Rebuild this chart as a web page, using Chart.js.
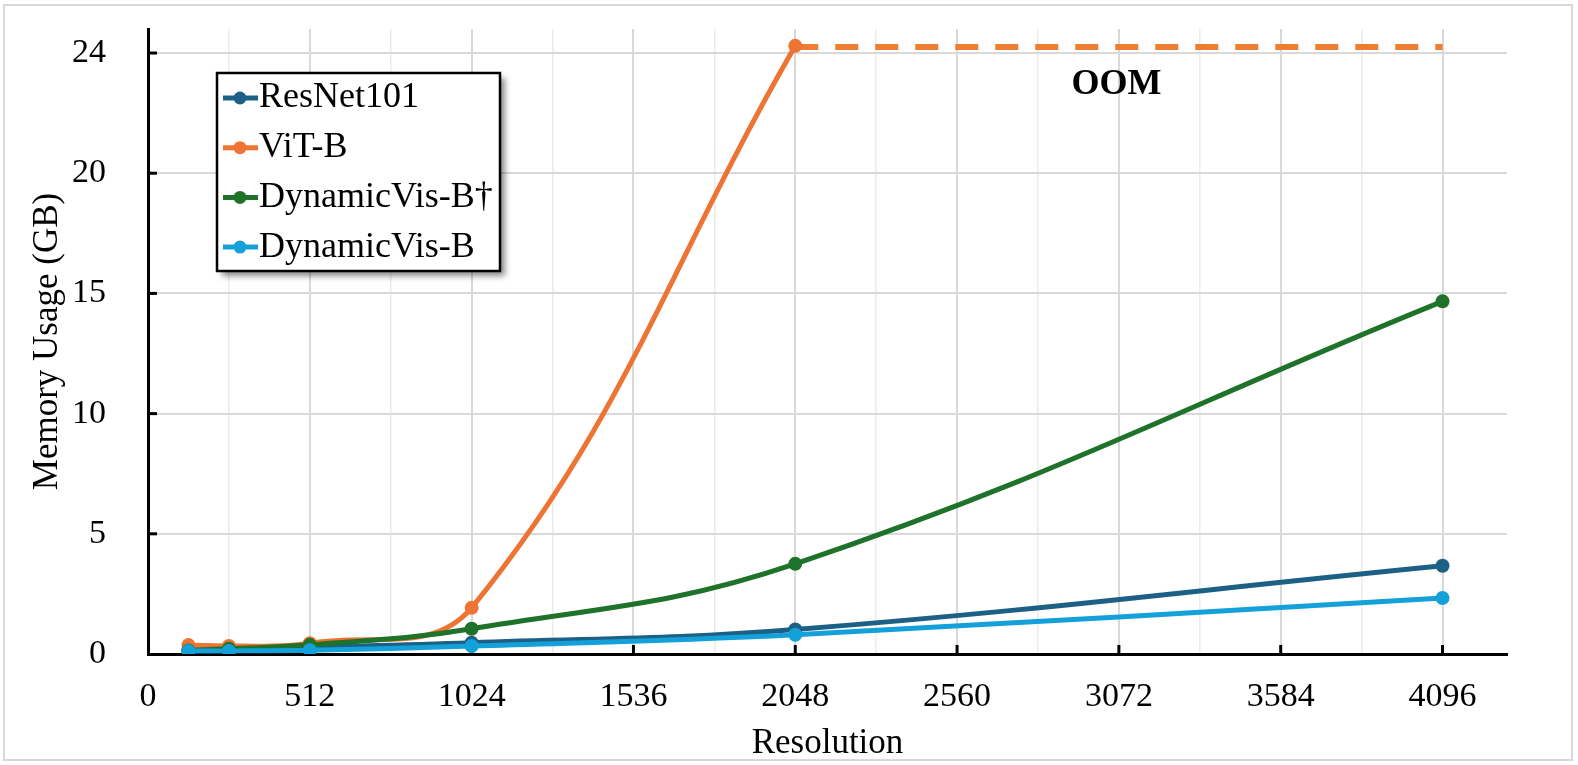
<!DOCTYPE html>
<html>
<head>
<meta charset="utf-8">
<title>Memory usage vs resolution</title>
<script src="https://cdn.jsdelivr.net/npm/chart.js@4.4.1/dist/chart.umd.min.js"></script>
<style>
  html, body { margin: 0; padding: 0; background: #fff; overflow: hidden; }
  #wrap { position: relative; width: 1578px; height: 765px; }
  #frame {
    position: absolute; left: 3px; top: 4px; width: 1570px; height: 757px;
    border: 2px solid #d9d9d9; box-sizing: border-box; pointer-events: none;
  }
</style>
</head>
<body>
<div id="wrap">
  <canvas id="memChart" width="1578" height="765"></canvas>
  <div id="frame"></div>
</div>
<script>
// values (GB)
const resolutions = [128, 256, 512, 1024, 2048, 4096];
const resnet101 = [0.18, 0.2, 0.28, 0.47, 1.02, 3.67];
const vitB = [0.37, 0.33, 0.45, 1.92, 25.3, null];
const dynamicVisDagger = [0.15, 0.22, 0.38, 1.05, 3.75, 14.67];
const dynamicVisB = [0.12, 0.13, 0.16, 0.33, 0.8, 2.33];

// ViT-B runs out of memory past 2048
const oomResolutions = [2048, 4096];
const oomLevel = [25.25, 25.25];
const oomText = "OOM";
const oomTextAt = [3064, 23.7];

const xTickValues = [0, 256, 512, 768, 1024, 1280, 1536, 1792, 2048, 2304,
  2560, 2816, 3072, 3328, 3584, 3840, 4096];
const yTickValues = [0, 5, 10, 15, 20, 25];
const yTickLabels = ["0", "5", "10", "15", "20", "24"];

const FONT = '"Liberation Serif", "Times New Roman", serif';
Chart.defaults.font.family = FONT;
Chart.defaults.color = "#000";

function toPoints(xs, ys) {
  return xs.map((x, i) => ({ x: x, y: ys[i] }));
}

function series(label, values, color, order) {
  return {
    label: label,
    data: toPoints(resolutions, values),
    borderColor: color,
    backgroundColor: color,
    borderWidth: 5,
    pointRadius: 7,
    pointBorderWidth: 0,
    tension: 0.4,
    order: order,
  };
}

// inward tick marks, the framed legend and the OOM label
const extras = {
  id: "extras",
  beforeDatasetsDraw(chart) {
    const { ctx, chartArea, scales } = chart;
    ctx.save();
    ctx.strokeStyle = "#000";
    ctx.lineWidth = 3;
    xTickValues.filter(v => v % 512 === 0 && v > 0).forEach(v => {
      const px = scales.x.getPixelForValue(v);
      ctx.beginPath();
      ctx.moveTo(px, chartArea.bottom);
      ctx.lineTo(px, chartArea.bottom - 9);
      ctx.stroke();
    });
    yTickValues.filter(v => v > 0).forEach(v => {
      const py = scales.y.getPixelForValue(v);
      ctx.beginPath();
      ctx.moveTo(chartArea.left, py);
      ctx.lineTo(chartArea.left + 9, py);
      ctx.stroke();
    });
    ctx.restore();
  },
  afterDraw(chart) {
    const { ctx, chartArea, scales } = chart;
    const items = chart.data.datasets.filter(d => !d.noLegend);

    const bx = chartArea.left + 69, by = chartArea.top + 44;
    const bw = 283, bh = 198, rowH = 49.7;

    ctx.save();
    ctx.shadowColor = "rgba(0,0,0,0.45)";
    ctx.shadowBlur = 6;
    ctx.shadowOffsetX = 5;
    ctx.shadowOffsetY = 5;
    ctx.fillStyle = "#fff";
    ctx.fillRect(bx, by, bw, bh);
    ctx.restore();

    ctx.save();
    ctx.strokeStyle = "#000";
    ctx.lineWidth = 2.5;
    ctx.strokeRect(bx, by, bw, bh);

    ctx.font = "36px " + FONT;
    ctx.textAlign = "left";
    ctx.textBaseline = "middle";
    items.forEach((d, i) => {
      const y = by + 25 + i * rowH;
      ctx.strokeStyle = d.borderColor;
      ctx.lineWidth = 5;
      ctx.beginPath();
      ctx.moveTo(bx + 6, y);
      ctx.lineTo(bx + 41, y);
      ctx.stroke();
      ctx.fillStyle = d.borderColor;
      ctx.beginPath();
      ctx.arc(bx + 23, y, 6.5, 0, Math.PI * 2);
      ctx.fill();
      ctx.fillStyle = "#000";
      ctx.fillText(d.label, bx + 42, y);
    });

    ctx.font = "bold 36px " + FONT;
    ctx.textAlign = "center";
    ctx.fillText(oomText, scales.x.getPixelForValue(oomTextAt[0]),
      scales.y.getPixelForValue(oomTextAt[1]));
    ctx.restore();
  },
};

new Chart(document.getElementById("memChart"), {
  type: "line",
  data: {
    datasets: [
      series("ResNet101", resnet101, "#1c6185", 4),
      series("ViT-B", vitB, "#ed7433", 3),
      series("DynamicVis-B\u2020", dynamicVisDagger, "#1f7229", 2),
      series("DynamicVis-B", dynamicVisB, "#14a1d9", 1),
      {
        label: "ViT-B OOM",
        noLegend: true,
        data: toPoints(oomResolutions, oomLevel),
        borderColor: "#ed7d31",
        borderWidth: 6,
        borderDash: [23, 17],
        pointRadius: 0,
        tension: 0,
        order: 3.5,
      },
    ],
  },
  options: {
    responsive: false,
    animation: false,
    layout: { padding: { top: 29, right: 71, left: 0, bottom: 0 } },
    plugins: { legend: { display: false }, tooltip: { enabled: false } },
    scales: {
      x: {
        type: "linear",
        min: 0,
        max: 4300,
        afterBuildTicks: s => { s.ticks = xTickValues.map(v => ({ value: v })); },
        afterFit: s => { s.height = 111; },
        border: { color: "#000", width: 3 },
        grid: {
          drawTicks: false,
          color: c => (c.tick && c.tick.value % 512 === 0) ? "#d9d9d9" : "#ececec",
          lineWidth: c => (c.tick && c.tick.value % 512 === 0) ? 2 : 1.5,
        },
        ticks: {
          padding: 23,
          maxRotation: 0,
          autoSkip: false,
          font: { size: 34 },
          callback: v => (v % 512 === 0 ? String(v) : ""),
        },
        title: {
          display: true,
          text: "Resolution",
          font: { size: 35 },
          padding: { top: 0, bottom: 0 },
        },
      },
      y: {
        min: 0,
        max: 26,
        afterBuildTicks: s => { s.ticks = yTickValues.map(v => ({ value: v })); },
        afterFit: s => { s.width = 148; s.paddingTop = 0; s.paddingBottom = 0; },
        border: { color: "#000", width: 3 },
        grid: { drawTicks: false, color: "#d9d9d9", lineWidth: 2 },
        ticks: {
          padding: 42,
          font: { size: 34 },
          callback: (v, i) => yTickLabels[i],
        },
        title: {
          display: true,
          text: "Memory Usage (GB)",
          font: { size: 35 },
          padding: { top: 27, bottom: 0 },
        },
      },
    },
  },
  plugins: [extras],
});
</script>
</body>
</html>
